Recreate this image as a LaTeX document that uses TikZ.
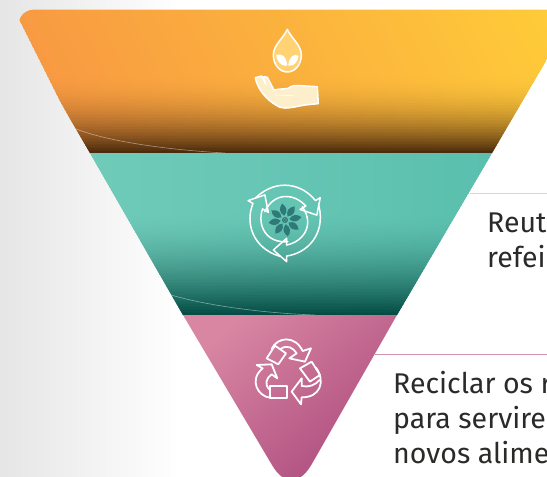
\documentclass[tikz,border=0pt]{standalone}
\usepackage{fontspec}
\setmainfont{Fira Sans}
\definecolor{inkc}{HTML}{2B2A29}
\definecolor{tealdk}{HTML}{2F7A78}
\definecolor{orgA}{HTML}{F89A42}
\definecolor{orgB}{HTML}{FFCE38}
\definecolor{orgD}{HTML}{45260A}
\definecolor{teaA}{HTML}{70CBB9}
\definecolor{teaB}{HTML}{5ABFAE}
\definecolor{teaD}{HTML}{024A42}
\definecolor{pnkA}{HTML}{D886A2}
\definecolor{pnkB}{HTML}{AE4D7F}
\definecolor{ruleT}{HTML}{B8E2DC}
\definecolor{ruleP}{HTML}{D293AE}
\definecolor{dropc}{HTML}{FFD273}
\definecolor{handc}{HTML}{FDEFCB}
\tikzset{
  bodytext/.style={anchor=base west, font=\fontsize{28.5}{28.5}\selectfont, text=inkc, inner sep=0pt},
  iconline/.style={draw=white, line width=1.5pt, line join=round, line cap=round},
  wave/.style={draw=white, opacity=.45, line width=.6pt},
  zoomA/.style={shift={(230,10)}, x=.3333pt, y=-.3333pt},
  zoomB/.style={shift={(235,170)}, x=.3333pt, y=-.3333pt},
  zoomC/.style={shift={(240,325)}, x=.3333pt, y=-.3333pt},
}
\begin{document}
\begin{tikzpicture}[x=1pt,y=-1pt]
\useasboundingbox (0,0) rectangle (547,477);
\clip (0,0) rectangle (547,477);
% background
\fill[white] (0,0) rectangle (547,477);
\shade[left color=black!10, right color=white] (0,0) rectangle (180,477);
% top band
\begin{scope}
\clip (35,9.5) .. controls (22,9.5) and (14,22) .. (22,36) -- (90,153) -- (492,153) -- (576,9.5) -- cycle;
\foreach \yy in {9,10.5,...,153}{
  \pgfmathsetmacro\al{100*pow(max(\yy-72,0.01)/81,2.1)}
  \pgfmathsetmacro\sh{0.5*(\yy-9)}
  \colorlet{cl}{orgD!\al!orgA}\colorlet{cr}{orgD!\al!orgB}
  \shade[left color=cl, right color=cr] (15+\sh,\yy) rectangle (575+\sh,\yy+2.5);
}
\end{scope}
\draw[wave] (76,129) .. controls (110,142) and (170,150) .. (225,153);
% middle band
\begin{scope}
\clip (90,153) -- (183,315) -- (397,315) -- (492,153) -- cycle;
\foreach \yy in {153,154.5,...,315}{
  \pgfmathsetmacro\al{100*pow(max(\yy-212,0.01)/103,1.7)}
  \colorlet{cl}{teaD!\al!teaA}\colorlet{cr}{teaD!\al!teaB}
  \shade[left color=cl, right color=cr] (85,\yy) rectangle (495,\yy+2.5);
}
\end{scope}
\draw[wave] (171,295) .. controls (205,305) and (260,313) .. (315,315);
% bottom band
\shade[top color=pnkA, bottom color=pnkB, shading angle=40]
  (183,315) -- (272,465) .. controls (278,475) and (284,480) .. (292,480) .. controls (300,480) and (307,473) .. (313,462) -- (397,315) -- cycle;
% rules
\draw[color=ruleT, line width=.8pt] (470,193.5) -- (547,193.5);
\draw[color=ruleP, line width=1pt] (375,354.5) -- (547,354.5);
% texts
\node[bodytext] (t1) at (487,232) {Reut};
\node[bodytext] (t2) at (487,267) {refei};
\node[bodytext] (t3) at (393,393) {Reciclar os r};
\node[bodytext] (t4) at (393,428) {para servire};
\node[bodytext] (t5) at (393,463) {novos alime};
% drop and hand icon
\begin{scope}[zoomA]
\draw[iconline, fill=dropc] (172,58) .. controls (160,85) and (130,105) .. (130,135) .. controls (130,165) and (150,186) .. (172,186) .. controls (194,186) and (214,165) .. (214,135) .. controls (214,105) and (184,85) .. (172,58) -- cycle;
\fill[white] (138,135) .. controls (155,128) and (170,140) .. (172,167) .. controls (150,170) and (140,150) .. (138,135) -- cycle;
\fill[white] (206,137) .. controls (190,130) and (176,142) .. (175,167) .. controls (195,170) and (204,152) .. (206,137) -- cycle;
\draw[iconline, fill=handc] (76,203) -- (95,198) -- (107,222) -- (102,200) -- (112,202) -- (132,240) .. controls (150,236) and (165,237) .. (175,235) .. controls (185,226) and (195,226) .. (210,227) -- (262,230) -- (265,281) -- (225,285) .. controls (195,290) and (170,298) .. (150,292) .. controls (125,280) and (85,250) .. (76,203) -- cycle;
\draw[iconline, line width=.5pt] (135,255) -- (190,257);
\end{scope}
% recycling with flower
\begin{scope}[zoomB]
\foreach \a in {0,120,240}{
\begin{scope}[rotate around={\a:(150,150)}]
\draw[iconline] (155,225) -- (155,205) -- (115,240) -- (155,275) -- (155,258) .. controls (215,250) and (272,195) .. (252,108);
\draw[iconline] (155,225) .. controls (205,215) and (240,165) .. (202,110);
\end{scope}}
\foreach \a in {0,45,...,315}{
\fill[tealdk, rotate around={\a+10:(150,150)}] (150,137) .. controls (136,125) and (138,112) .. (150,100) .. controls (162,112) and (164,125) .. (150,137) -- cycle;}
\fill[tealdk] (150,150) circle (9);
\draw[white, line width=.3pt, densely dotted] (150,150) circle (5);
\end{scope}
% recycling icon
\begin{scope}[zoomC, iconline/.append style={line width=1.8pt}]
\draw[iconline] (80,100) -- (105,62) -- (138,85) -- (115,118) -- cycle;
\draw[iconline] (95,72) .. controls (112,35) and (165,30) .. (188,78) -- (213,70) -- (195,110) -- (148,100) -- (170,85) .. controls (160,68) and (140,58) .. (122,72);
\draw[iconline] (180,130) -- (215,110) -- (240,150) -- (210,170) -- cycle;
\draw[iconline] (228,128) .. controls (258,170) and (240,218) .. (185,217) -- (183,238) -- (155,200) -- (185,160) -- (185,183) .. controls (205,188) and (228,180) .. (238,165);
\draw[iconline] (90,183) -- (140,183) -- (140,218) -- (90,218) -- cycle;
\draw[iconline] (90,218) .. controls (55,215) and (25,165) .. (68,130) -- (50,120) -- (95,118) -- (112,160) -- (95,148) .. controls (78,160) and (72,180) .. (90,195);
\end{scope}
\end{tikzpicture}
\end{document}
